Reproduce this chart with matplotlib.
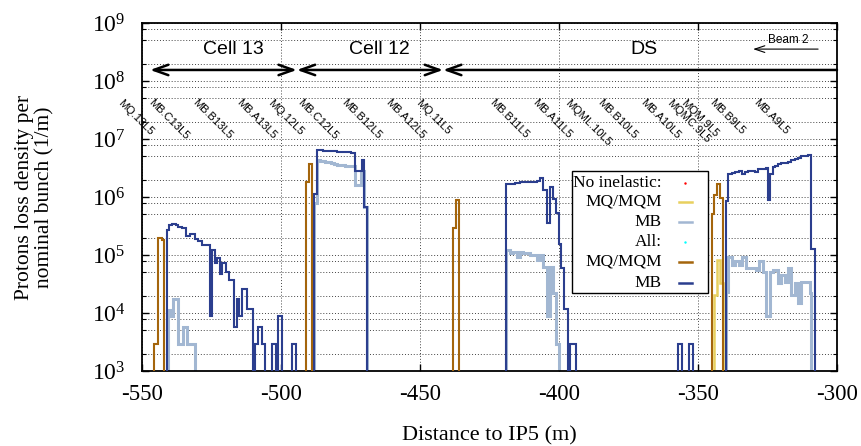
import numpy as np
import matplotlib
matplotlib.use("Agg")
import matplotlib.pyplot as plt
from matplotlib.ticker import LogLocator, NullFormatter, MultipleLocator
from matplotlib.patches import Rectangle, FancyArrowPatch

# colours
C_MB_ALL = "#2b3e8e"
C_MB_NOIN = "#a2b7d2"
C_MQ_ALL = "#a4650c"
C_MQ_NOIN = "#e8d05e"

# ---- data: step histograms, bin edges (m) and log10 of loss density ----
# All, MQ/MQM
mq_all_13_edges = [-545.6, -544.4, -542.9, -542.1]
mq_all_13_log = [3.46, 5.30, 5.26]
mq_all_12_edges = [-491.0, -489.9, -489.0]
mq_all_12_log = [6.25, 6.57]
mq_all_11_edges = [-438.2, -437.2, -436.0]
mq_all_11_log = [5.46, 5.95]
mq_all_9_edges = [-345.1, -344.2, -343.3, -342.2, -341.0]
mq_all_9_log = [5.70, 6.04, 6.22, 5.99]

# No inelastic, MQ/MQM
mq_noin_9_edges = [-344.3, -343.3, -342.1, -341.1]
mq_noin_9_log = [4.31, 4.91, 4.51]

# All, MB
mb_all_13_edges = [-541.1, -540.2, -539.1, -537.9, -536.9, -535.5, -534.1, -532.7,
                   -530.9, -529.7, -528.5, -525.7, -524.9, -523.7, -522.9, -521.9,
                   -521.1, -519.9, -518.6, -516.9, -515.9, -515.0, -514.1, -512.1, -510.0]
mb_all_13_log = [5.43, 5.51, 5.54, 5.51, 5.48, 5.47, 5.33, 5.36, 5.28, 5.24, 5.18, 3.94,
                 5.08, 4.87, 4.95, 4.67, 4.86, 4.71, 4.57, 3.76, 4.24, 3.94, 4.42, 4.07]
mb_all_s1_edges = [-509.4, -508.4, -506.7, -505.9]
mb_all_s1_log = [3.47, 3.76, 3.47]
mb_all_s2_edges = [-503.1, -501.9]
mb_all_s2_log = [3.47]
mb_all_s3_edges = [-501.2, -499.7]
mb_all_s3_log = [3.94]
mb_all_s4_edges = [-495.9, -494.7]
mb_all_s4_log = [3.47]
mb_all_12_edges = [-488.0, -487.0, -486.0, -485.0, -484.0, -483.0, -482.0, -481.0, -480.0,
                   -479.0, -478.0, -477.0, -476.0, -475.0, -474.0, -473.4, -471.0, -470.0, -469.0]
mb_all_12_log = [6.06, 6.81, 6.81, 6.80, 6.80, 6.79, 6.79, 6.79, 6.78, 6.78, 6.78, 6.77,
                 6.77, 6.76, 6.76, 6.44, 6.63, 5.83]
mb_all_11_edges = [-419.2, -418.0, -417.0, -416.0, -415.0, -414.0, -413.0, -412.0, -411.0,
                   -410.0, -409.0, -408.0, -406.8, -405.6, -404.2, -403.2, -402.0, -400.9,
                   -400.1, -399.3, -398.2, -396.6]
mb_all_11_log = [6.22, 6.23, 6.23, 6.24, 6.24, 6.25, 6.25, 6.26, 6.25, 6.26, 6.26,
                 6.27, 6.32, 6.12, 5.56, 6.17, 5.96, 5.72, 5.19, 4.78, 4.07]
mb_all_s5_edges = [-396.0, -393.9]
mb_all_s5_log = [3.47]
mb_all_s6_edges = [-357.3, -355.8]
mb_all_s6_log = [3.47]
mb_all_s7_edges = [-353.1, -351.8]
mb_all_s7_log = [3.47]
mb_all_9_edges = [-339.9, -339.1, -337.9, -336.7, -335.2, -334.0, -333.2, -332.0, -330.8,
                  -329.6, -328.4, -327.2, -325.4, -324.8, -324.2, -323.2, -322.4, -321.2,
                  -320.0, -318.8, -317.6, -316.4, -315.2, -314.0, -312.8, -311.6, -310.4,
                  -309.2, -308.0]
mb_all_9_log = [5.93, 6.39, 6.41, 6.43, 6.44, 6.40, 6.43, 6.45, 6.45, 6.43, 6.48, 6.49,
                6.50, 5.94, 6.39, 6.51, 6.53, 6.57, 6.58, 6.59, 6.60, 6.63, 6.66, 6.67,
                6.70, 6.71, 6.72, 5.11]

# No inelastic, MB
mb_noin_13_edges = [-540.8, -539.9, -539.0, -537.2, -535.4, -533.7, -530.9]
mb_noin_13_log = [4.05, 3.94, 4.24, 3.47, 3.76, 3.47]
mb_noin_12_edges = [-488.0, -487.0, -486.0, -485.0, -484.0, -483.0, -482.0, -481.0, -480.0,
                    -479.0, -478.0, -477.0, -476.0, -475.0, -474.0, -473.4, -471.4, -470.2, -469.0]
mb_noin_12_log = [5.89, 6.63, 6.62, 6.62, 6.61, 6.60, 6.59, 6.57, 6.56, 6.55, 6.55, 6.54,
                  6.54, 6.53, 6.53, 6.21, 6.44, 5.83]
mb_noin_11_edges = [-419.2, -417.6, -416.4, -415.2, -414.0, -412.8, -411.6, -410.4, -409.2,
                    -408.0, -406.8, -405.6, -404.2, -403.1, -402.0, -400.9, -400.0]
mb_noin_11_log = [5.09, 5.03, 5.06, 4.96, 5.06, 5.03, 5.04, 5.00, 5.00, 4.91, 5.00, 4.80,
                  3.94, 4.80, 4.35, 3.46]
mb_noin_9_edges = [-339.9, -339.1, -337.9, -336.7, -335.2, -334.0, -332.8, -331.4, -329.2,
                   -328.0, -326.6, -325.4, -324.2, -323.0, -321.2, -320.0, -318.8, -317.6,
                   -316.4, -315.2, -314.0, -312.8, -311.6, -309.8, -309.2]
mb_noin_9_log = [4.37, 4.96, 4.83, 4.89, 4.83, 4.97, 4.78, 4.77, 4.74, 4.90, 4.71, 3.94,
                 4.71, 4.74, 4.51, 4.66, 4.54, 4.77, 4.31, 4.51, 4.17, 4.54, 4.54, 4.34]

# element labels (start position of the rotated text)
elem_names = ["MQ.13L5", "MB.C13L5", "MB.B13L5", "MB.A13L5", "MQ.12L5", "MB.C12L5",
              "MB.B12L5", "MB.A12L5", "MQ.11L5", "MB.B11L5", "MB.A11L5", "MQML.10L5",
              "MB.B10L5", "MB.A10L5", "MQMC.9L5", "MQM.9L5", "MB.B9L5", "MB.A9L5"]
elem_x = [-556.8, -545.7, -529.9, -514.0, -502.9, -492.1, -476.3, -460.4, -449.6,
          -423.0, -407.8, -396.0, -384.1, -368.7, -359.3, -354.1, -343.9, -328.3]

# cell arrows
cell_names = ["Cell 13", "Cell 12", "DS"]
cell_text_x = [-517.0, -464.7, -369.6]
cell_bounds = [-547.1, -494.3, -441.7, -300.0]

plt.rcParams.update({
    "font.family": "Liberation Serif",
    "mathtext.fontset": "stix",
    "axes.unicode_minus": False,
})

fig = plt.figure(figsize=(8.61, 4.46), dpi=100)
ax = fig.add_axes([142 / 861, 1 - 371 / 446, 695 / 861, 348 / 446])


def draw(edges, logs, color, lw, z):
    ax.stairs(10.0 ** np.array(logs), edges, baseline=1.0, color=color, lw=lw, zorder=z)


# no inelastic first, all on top
for e, v in [(mb_noin_13_edges, mb_noin_13_log), (mb_noin_12_edges, mb_noin_12_log),
             (mb_noin_11_edges, mb_noin_11_log), (mb_noin_9_edges, mb_noin_9_log)]:
    draw(e, v, C_MB_NOIN, 2.2, 2)
draw(mq_noin_9_edges, mq_noin_9_log, C_MQ_NOIN, 1.8, 2)

for e, v in [(mb_all_13_edges, mb_all_13_log), (mb_all_s1_edges, mb_all_s1_log),
             (mb_all_s2_edges, mb_all_s2_log), (mb_all_s3_edges, mb_all_s3_log),
             (mb_all_s4_edges, mb_all_s4_log), (mb_all_12_edges, mb_all_12_log),
             (mb_all_11_edges, mb_all_11_log), (mb_all_s5_edges, mb_all_s5_log),
             (mb_all_s6_edges, mb_all_s6_log), (mb_all_s7_edges, mb_all_s7_log),
             (mb_all_9_edges, mb_all_9_log)]:
    draw(e, v, C_MB_ALL, 1.5, 3)
for e, v in [(mq_all_13_edges, mq_all_13_log), (mq_all_12_edges, mq_all_12_log),
             (mq_all_11_edges, mq_all_11_log), (mq_all_9_edges, mq_all_9_log)]:
    draw(e, v, C_MQ_ALL, 1.5, 3)

ax.set_yscale("log")
ax.set_xlim(-550, -300)
ax.set_ylim(1e3, 1e9)
ax.xaxis.set_major_locator(MultipleLocator(50))
ax.yaxis.set_major_locator(LogLocator(base=10, numticks=20))
ax.yaxis.set_minor_locator(LogLocator(base=10, subs=(2.0, 5.0, 8.0), numticks=20))
ax.yaxis.set_minor_formatter(NullFormatter())

grid_kw = dict(ls=(0, (1, 2)), color="#444444", lw=0.7)
ax.grid(True, which="major", axis="both", **grid_kw)
ax.grid(True, which="minor", axis="y", **grid_kw)

ax.tick_params(which="both", direction="in", top=True, right=True)
ax.tick_params(which="major", length=5, width=1.0)
ax.tick_params(which="minor", length=3, width=0.8)
ax.tick_params(axis="x", labelsize=16.5, pad=9)
ax.tick_params(axis="y", labelsize=17, pad=12)
for s in ax.spines.values():
    s.set_linewidth(1.3)

ax.set_xlabel("Distance to IP5 (m)", fontsize=16)
ax.xaxis.set_label_coords(0.5, -0.158)
ax.set_ylabel("Protons loss density per\nnominal bunch (1/m)", fontsize=15.5, linespacing=1.1)
ax.yaxis.set_label_coords(-0.126, 0.5)

# element names
for name, x in zip(elem_names, elem_x):
    ax.text(x, 5.2e7, name, rotation=-45, rotation_mode="anchor", ha="left", va="top",
            fontsize=8, family="Liberation Sans", clip_on=False, zorder=4)

# cell arrows and names
y_arrow = 1.55e8
arrow_styles = ["<->", "<->", "<-"]
for i in range(3):
    ax.add_patch(FancyArrowPatch((cell_bounds[i], y_arrow), (cell_bounds[i + 1], y_arrow),
                                 arrowstyle=arrow_styles[i] + ",head_length=0.7,head_width=0.25",
                                 mutation_scale=15, lw=1.8, color="k", shrinkA=0, shrinkB=0,
                                 zorder=4, clip_on=False))
for name, x in zip(cell_names, cell_text_x):
    ax.text(x, 10 ** 8.55, name, ha="center", va="center", fontsize=14,
            family="Liberation Sans", zorder=4)

# beam direction
ax.add_patch(FancyArrowPatch((-306.8, 10 ** 8.55), (-330.2, 10 ** 8.55),
                             arrowstyle="->,head_length=0.6,head_width=0.2",
                             mutation_scale=12, lw=0.8, color="k", shrinkA=0, shrinkB=0,
                             zorder=4))
ax.text(-317.6, 10 ** 8.71, "Beam 2", ha="center", va="center", fontsize=8.5,
        family="Liberation Sans", zorder=4)

# legend drawn by hand (right aligned texts, samples on the right)
leg_x0, leg_x1, leg_y0, leg_y1 = 0.618, 0.814, 0.225, 0.575
ax.add_patch(Rectangle((leg_x0, leg_y0), leg_x1 - leg_x0, leg_y1 - leg_y0,
                       transform=ax.transAxes, facecolor="white", edgecolor="black",
                       lw=1.0, zorder=6))
leg_labels = ["No inelastic:", "MQ/MQM", "MB", "All:", "MQ/MQM", "MB"]
leg_colors = ["red", C_MQ_NOIN, C_MB_NOIN, "cyan", C_MQ_ALL, C_MB_ALL]
leg_rows = [0.541, 0.487, 0.429, 0.372, 0.314, 0.254]
for lab, col, yy in zip(leg_labels, leg_colors, leg_rows):
    ax.text(0.748, yy, lab, transform=ax.transAxes, ha="right", va="center",
            fontsize=12.5, zorder=7)
    if lab.endswith(":"):
        ax.plot([0.781], [yy], marker=".", ms=1.5, color=col, transform=ax.transAxes,
                zorder=7, clip_on=False)
    else:
        ax.plot([0.772, 0.791], [yy, yy], color=col, lw=1.8, transform=ax.transAxes,
                zorder=7, clip_on=False)

fig.savefig("out.png", dpi=100)
